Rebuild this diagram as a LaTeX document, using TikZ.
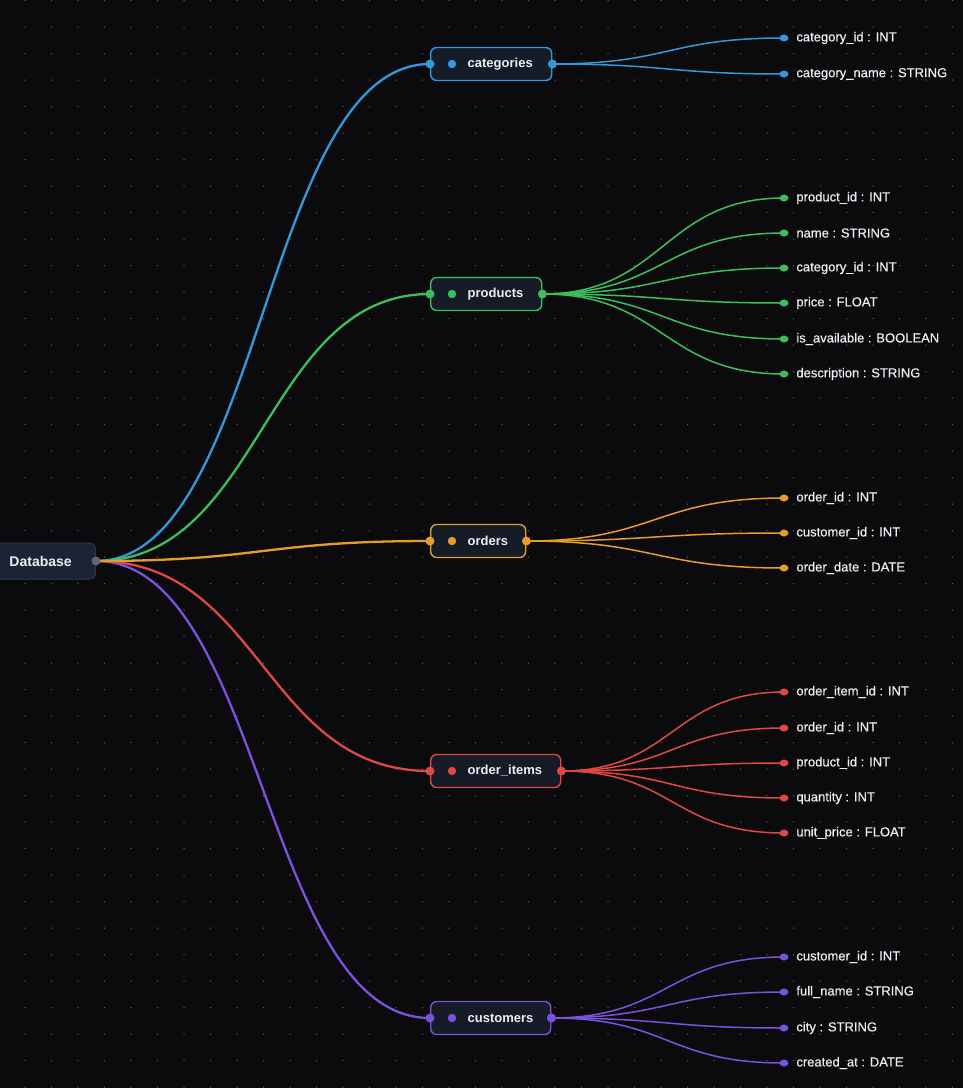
\documentclass[tikz,border=0pt]{standalone}
\usepackage{fontspec}
\setmainfont{Liberation Sans}
\newfontfamily\fieldfont[FakeBold=0.5]{Liberation Sans}
\definecolor{bgc}{HTML}{0B0B0E}
\definecolor{gridc}{HTML}{5A5A62}
\definecolor{cblue}{HTML}{3399DB}
\definecolor{cgreen}{HTML}{3DBE5C}
\definecolor{corange}{HTML}{E69C2C}
\definecolor{cred}{HTML}{E04747}
\definecolor{cpurple}{HTML}{7B52DF}
\definecolor{tfill}{HTML}{161B28}
\definecolor{dbfill}{HTML}{1B2334}
\definecolor{dbborder}{HTML}{2C364A}
\definecolor{dbport}{HTML}{5E6678}
\definecolor{txtc}{HTML}{EEEEF2}
\tikzset{
  tbl/.style={draw=#1, line width=1.4pt, fill=tfill, rounded corners=6pt,
    minimum height=33pt, inner xsep=0pt, inner ysep=0pt, anchor=west,
    text=txtc, font=\fontsize{13}{15}\selectfont\bfseries},
  dbbox/.style={draw=dbborder, line width=1pt, fill=dbfill, rounded corners=6pt,
    minimum height=36pt, inner xsep=0pt, inner ysep=0pt, anchor=east,
    text=txtc, font=\fontsize{14}{16}\selectfont\bfseries},
  mainline/.style={draw=#1, line width=2.3pt},
  fline/.style={draw=#1, line width=1.5pt},
  port/.style={circle, fill=#1, minimum size=9pt, inner sep=0pt},
  fdot/.style 2 args={circle, fill=#1, minimum size=7pt, inner sep=0pt,
    label={[text=txtc, font=\fontsize{13}{15}\fieldfont, inner sep=0pt, label distance=8.5pt]right:#2}},
}
\begin{document}
\begin{tikzpicture}[x=1pt, y=-1pt]
\useasboundingbox (0,0) rectangle (963,1088);
\fill[bgc] (0,0) rectangle (963,1088);
\foreach \i in {0,...,35}
  \foreach \j in {0,...,41}
    \fill[gridc] (25+26.5*\i, 0.5+26.5*\j) circle (0.75);

\begin{scope}[yshift=-1pt]
% database
\node[dbbox] (db) at (96,560) {\makebox[106pt][l]{\hspace{20pt}Database}};
\coordinate (dbp) at (db.east);

% tables
\node[tbl=cblue] (categories) at (430,63) {\makebox[121pt][l]{\hspace{37pt}categories}};
\node[tbl=cgreen] (products) at (430,293) {\makebox[111pt][l]{\hspace{37pt}products}};
\node[tbl=corange] (orders) at (430,540) {\makebox[95pt][l]{\hspace{37pt}orders}};
\node[tbl=cred] (orderitems) at (430,770) {\makebox[130pt][l]{\hspace{37pt}order\_items}};
\node[tbl=cpurple] (customers) at (430,1017) {\makebox[120pt][l]{\hspace{37pt}customers}};

% main connectors
\draw[mainline=cblue] (dbp) .. controls +(166,0) and +(-166,0) .. (categories.west);
\draw[mainline=cgreen] (dbp) .. controls +(166,0) and +(-166,0) .. (products.west);
\draw[mainline=cpurple] (dbp) .. controls +(166,0) and +(-166,0) .. (customers.west);
\draw[mainline=cred] (dbp) .. controls +(166,0) and +(-166,0) .. (orderitems.west);
\draw[mainline=corange] (dbp) .. controls +(166,0) and +(-166,0) .. (orders.west);

% fields: categories
\foreach \y/\t [count=\k] in {37/category\_id : INT, 73/category\_name : STRING}{
  \node[fdot={cblue}{\t}] (cat-\k) at (784,\y) {};
  \draw[fline=cblue] (categories.east) .. controls +(116,0) and +(-116,0) .. (cat-\k.center);
}
% fields: products
\foreach \y/\t [count=\k] in {197/product\_id : INT, 232/name : STRING, 267/category\_id : INT, 302/price : FLOAT, 338/is\_available : BOOLEAN, 373/description : STRING}{
  \node[fdot={cgreen}{\t}] (prod-\k) at (784,\y) {};
  \draw[fline=cgreen] (products.east) .. controls +(121,0) and +(-121,0) .. (prod-\k.center);
}
% fields: orders
\foreach \y/\t [count=\k] in {497/order\_id : INT, 532/customer\_id : INT, 567/order\_date : DATE}{
  \node[fdot={corange}{\t}] (ord-\k) at (784,\y) {};
  \draw[fline=corange] (orders.east) .. controls +(129,0) and +(-129,0) .. (ord-\k.center);
}
% fields: order_items
\foreach \y/\t [count=\k] in {691/order\_item\_id : INT, 727/order\_id : INT, 762/product\_id : INT, 797/quantity : INT, 832/unit\_price : FLOAT}{
  \node[fdot={cred}{\t}] (oi-\k) at (784,\y) {};
  \draw[fline=cred] (orderitems.east) .. controls +(112,0) and +(-112,0) .. (oi-\k.center);
}
% fields: customers
\foreach \y/\t [count=\k] in {956/customer\_id : INT, 991/full\_name : STRING, 1027/city : STRING, 1062/created\_at : DATE}{
  \node[fdot={cpurple}{\t}] (cus-\k) at (784,\y) {};
  \draw[fline=cpurple] (customers.east) .. controls +(117,0) and +(-117,0) .. (cus-\k.center);
}

% redraw dots on top of lines
\foreach \n/\c in {cat-1/cblue, cat-2/cblue, prod-1/cgreen, prod-2/cgreen, prod-3/cgreen, prod-4/cgreen, prod-5/cgreen, prod-6/cgreen, ord-1/corange, ord-2/corange, ord-3/corange, oi-1/cred, oi-2/cred, oi-3/cred, oi-4/cred, oi-5/cred, cus-1/cpurple, cus-2/cpurple, cus-3/cpurple, cus-4/cpurple}
  \fill[\c] (\n.center) ellipse (4.5 and 3.3);

% ports and inner dots
\foreach \n/\c in {categories/cblue, products/cgreen, orders/corange, orderitems/cred, customers/cpurple}{
  \node[port=\c] at (\n.west) {};
  \node[port=\c] at (\n.east) {};
  \fill[\c] ([xshift=22pt]\n.west) circle (4.2);
}
\node[port=dbport] at (dbp) {};
\end{scope}
\end{tikzpicture}
\end{document}
